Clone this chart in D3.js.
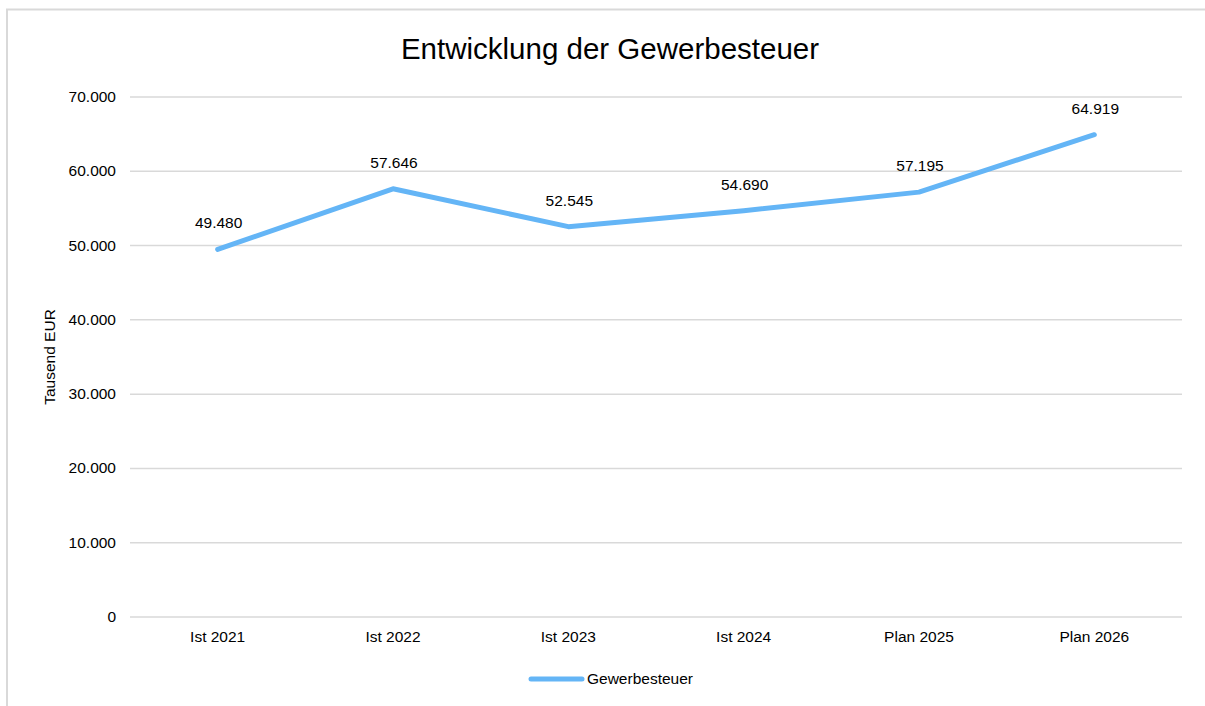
<!DOCTYPE html>
<html>
<head>
<meta charset="utf-8">
<script src="https://cdn.jsdelivr.net/npm/d3@7"></script>
<style>
  body { margin: 0; background: #fff; overflow: hidden; }
  svg { font-family: "Liberation Sans", Arial, sans-serif; display: block; }
</style>
</head>
<body>
<svg id="chart" width="1205" height="706"></svg>
<script>
// data
var categories = ["Ist 2021", "Ist 2022", "Ist 2023", "Ist 2024", "Plan 2025", "Plan 2026"];
var values = [49480, 57646, 52545, 54690, 57195, 64919];
var yTicks = [0, 10000, 20000, 30000, 40000, 50000, 60000, 70000];
var seriesName = "Gewerbesteuer";

var svg = d3.select("#chart");
var lineColor = "#64b5f6";
var labelSize = "15.5px";

// outer frame (only left and top edges are visible)
svg.append("path")
  .attr("d", "M7,720 V9.5 H1210")
  .style("fill", "none")
  .style("stroke", "#d9d9d9")
  .style("stroke-width", 2);

// title
svg.append("text")
  .attr("x", 610).attr("y", 59)
  .attr("text-anchor", "middle")
  .style("font-size", "29.5px")
  .style("fill", "#000")
  .text("Entwicklung der Gewerbesteuer");

var plotLeft = 130, plotRight = 1182, plotTop = 97, plotBottom = 617;

var x = d3.scalePoint()
  .domain(categories)
  .range([plotLeft, plotRight])
  .padding(0.5);

var y = d3.scaleLinear()
  .domain([0, 70000])
  .range([plotBottom, plotTop]);

var fmt = function (v) { return v === 0 ? "0" : d3.format(",")(v).replace(/,/g, "."); };

// gridlines
svg.append("g").selectAll("line")
  .data(yTicks)
  .join("line")
  .attr("x1", plotLeft).attr("x2", plotRight)
  .attr("y1", function (d) { return y(d); })
  .attr("y2", function (d) { return y(d); })
  .style("stroke", "#d9d9d9")
  .style("stroke-width", 1.5);

// y tick labels
svg.append("g").selectAll("text")
  .data(yTicks)
  .join("text")
  .attr("x", 116)
  .attr("y", function (d) { return y(d) + 5; })
  .attr("text-anchor", "end")
  .style("font-size", labelSize)
  .style("fill", "#000")
  .text(fmt);

// x labels
svg.append("g").selectAll("text")
  .data(categories)
  .join("text")
  .attr("x", function (d) { return x(d); })
  .attr("y", 642)
  .attr("text-anchor", "middle")
  .style("font-size", labelSize)
  .style("fill", "#000")
  .text(function (d) { return d; });

// y axis title
svg.append("text")
  .attr("transform", "translate(55," + ((plotTop + plotBottom) / 2) + ") rotate(-90)")
  .attr("text-anchor", "middle")
  .style("font-size", labelSize)
  .style("fill", "#000")
  .text("Tausend EUR");

// line
var pts = categories.map(function (c, i) { return { c: c, v: values[i] }; });
svg.append("path")
  .datum(pts)
  .attr("d", d3.line()
    .x(function (d) { return x(d.c); })
    .y(function (d) { return y(d.v); }))
  .style("fill", "none")
  .style("stroke", lineColor)
  .style("stroke-width", 5)
  .style("stroke-linecap", "round")
  .style("stroke-linejoin", "round");

// data labels
svg.append("g").selectAll("text")
  .data(pts)
  .join("text")
  .attr("x", function (d) { return x(d.c) + 1; })
  .attr("y", function (d) { return y(d.v) - 21; })
  .attr("text-anchor", "middle")
  .style("font-size", labelSize)
  .style("fill", "#000")
  .text(function (d) { return fmt(d.v); });

// legend
svg.append("line")
  .attr("x1", 531).attr("x2", 582)
  .attr("y1", 679).attr("y2", 679)
  .style("stroke", lineColor)
  .style("stroke-width", 5)
  .style("stroke-linecap", "round");
svg.append("text")
  .attr("x", 587).attr("y", 684)
  .style("font-size", labelSize)
  .style("fill", "#000")
  .text(seriesName);
</script>
</body>
</html>
